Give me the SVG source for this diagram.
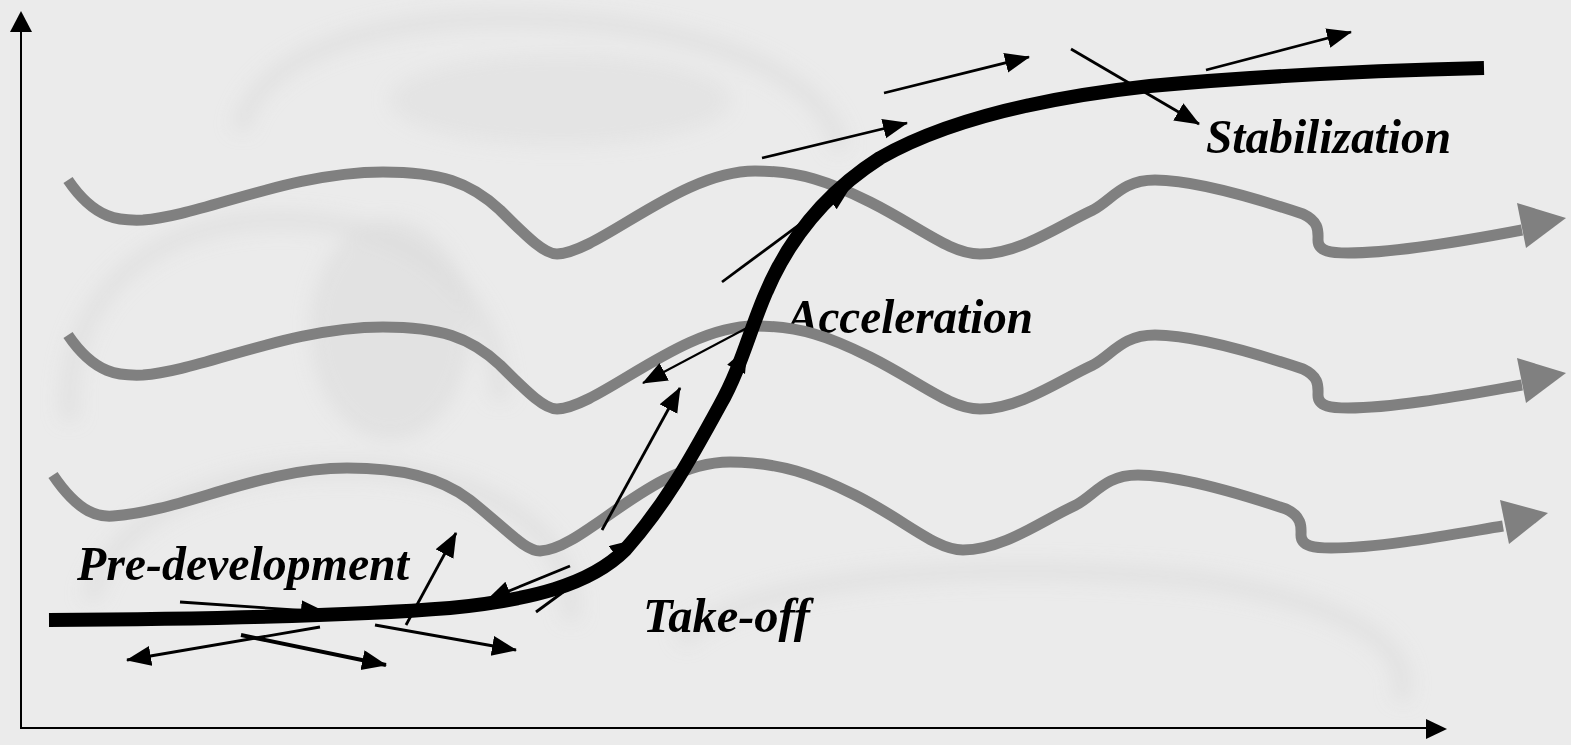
<svg xmlns="http://www.w3.org/2000/svg" width="1571" height="745" viewBox="0 0 1571 745">
<defs>
<style>
.wave{fill:none;stroke:#808080;stroke-width:11;stroke-linejoin:round}
.whead{fill:#808080}
.arr{fill:none;stroke:#000;stroke-width:2.8;marker-end:url(#ah)}
.axis{fill:none;stroke:#000;stroke-width:2}
.lbl{font-family:"Liberation Serif","Times New Roman",serif;font-weight:bold;font-style:italic;font-size:49px;fill:#000}
.bgs{fill:none;stroke:#d6d6d6;stroke-width:18;opacity:0.45}
</style>
<marker id="ah" markerUnits="userSpaceOnUse" markerWidth="30" markerHeight="24" refX="24" refY="10" orient="auto">
<path d="M0,0 L25,10 L0,20 z" fill="#000"/>
</marker>
<filter id="blur" x="-20%" y="-20%" width="140%" height="140%"><feGaussianBlur stdDeviation="9"/></filter>
</defs>
<rect width="1571" height="745" fill="#ebebeb"/>
<g id="background-photo" filter="url(#blur)">
<path class="bgs" d="M240,130 C260,40 420,10 560,20 C720,30 830,80 840,150"/>
<path class="bgs" d="M70,420 C60,300 150,220 280,220 C420,220 500,300 500,400"/>
<path class="bgs" d="M90,600 C120,500 250,460 380,470 C500,480 580,540 570,620"/>
<path class="bgs" d="M680,640 C760,570 1000,560 1200,580 C1330,600 1420,640 1400,700"/>
<ellipse cx="390" cy="330" rx="80" ry="110" fill="#d9d9d9" opacity="0.5"/>
<ellipse cx="560" cy="100" rx="170" ry="45" fill="#e0e0e0" opacity="0.6"/>
</g>
<g id="axes">
<line class="axis" x1="21" y1="728" x2="21" y2="28"/>
<polygon points="21,11 32,32 10,32" fill="#000"/>
<line class="axis" x1="20" y1="728" x2="1428" y2="728"/>
<polygon points="1447,729 1426,719 1426,739" fill="#000"/>
</g>
<g id="labels">
<text class="lbl" x="77" y="580" textLength="332" lengthAdjust="spacingAndGlyphs">Pre-development</text>
<text class="lbl" x="643" y="632" textLength="167" lengthAdjust="spacingAndGlyphs">Take-off</text>
<text class="lbl" x="787" y="333" textLength="246" lengthAdjust="spacingAndGlyphs">Acceleration</text>
<text class="lbl" x="1206" y="153" textLength="245" lengthAdjust="spacingAndGlyphs">Stabilization</text>
</g>
<g id="waves">
<g id="wave1">
<path class="wave" d="M68,180 C95,220 120,221 143,220 C200,216 290,172 383,172 C440,172 470,182 500,210 C530,240 545,254 557,254 C600,252 680,171 755,171 C800,171 830,182 870,202 C920,227 950,254 980,254 C1020,254 1060,225 1093,210 C1112,200 1122,180 1155,180 C1200,180 1270,203 1303,214 C1320,222 1318,232 1318,240 C1318,252 1332,253 1348,253 C1400,253 1480,238 1522,230"/>
<polygon class="whead" points="1517,203 1566,218 1526,248"/>
</g>
<g id="wave2">
<path class="wave" d="M68,335 C95,375 120,376 143,375 C200,371 290,327 383,327 C440,327 470,337 500,365 C530,395 545,409 557,409 C600,407 680,326 755,326 C800,326 830,337 870,357 C920,382 950,409 980,409 C1020,409 1060,380 1093,365 C1112,355 1122,335 1155,335 C1200,335 1270,358 1303,369 C1320,377 1318,387 1318,395 C1318,407 1332,408 1348,408 C1400,408 1480,392 1522,385"/>
<polygon class="whead" points="1517,358 1566,373 1526,403"/>
</g>
<g id="wave3">
<path class="wave" d="M53,475 C80,515 100,517 113,516 C180,512 260,468 347,468 C400,468 440,477 470,500 C510,532 525,551 540,551 C585,549 650,462 730,462 C780,462 815,475 855,495 C905,520 935,550 963,550 C1003,550 1043,520 1076,505 C1095,495 1105,475 1138,475 C1183,475 1253,498 1286,509 C1303,517 1301,528 1301,535 C1301,547 1316,548 1331,548 C1383,548 1460,533 1503,526"/>
<polygon class="whead" points="1500,500 1548,513 1509,544"/>
</g>
</g>
<g id="s-curve">
<path d="M49,620 C200,619 350,616 450,608 C530,600 590,585 625,550 C665,505 690,460 720,405 C740,370 750,330 765,295 C790,235 830,190 880,158 C950,118 1050,97 1150,86 C1280,74 1400,70 1484,68" fill="none" stroke="#000" stroke-width="14"/>
</g>
<g id="connectors">
<line class="arr" x1="180" y1="602" x2="325" y2="612"/>
<line class="arr" x1="320" y1="627" x2="127" y2="660"/>
<line class="arr" x1="375" y1="625" x2="516" y2="650"/>
<line class="arr" x1="241" y1="635" x2="386" y2="665" style="stroke-width:4"/>
<line class="arr" x1="406" y1="625" x2="456" y2="533"/>
<line class="arr" x1="570" y1="566" x2="487" y2="600"/>
<line class="arr" x1="536" y1="612" x2="634" y2="540"/>
<line class="arr" x1="602" y1="530" x2="680" y2="388"/>
<line class="arr" x1="672" y1="495" x2="747" y2="348"/>
<line class="arr" x1="760" y1="321" x2="643" y2="383" style="stroke-width:2"/>
<line class="arr" x1="722" y1="282" x2="850" y2="187"/>
<line class="arr" x1="762" y1="158" x2="907" y2="123"/>
<line class="arr" x1="884" y1="93" x2="1029" y2="57"/>
<line class="arr" x1="1071" y1="49" x2="1199" y2="124"/>
<line class="arr" x1="1206" y1="70" x2="1351" y2="32"/>
</g>
</svg>
